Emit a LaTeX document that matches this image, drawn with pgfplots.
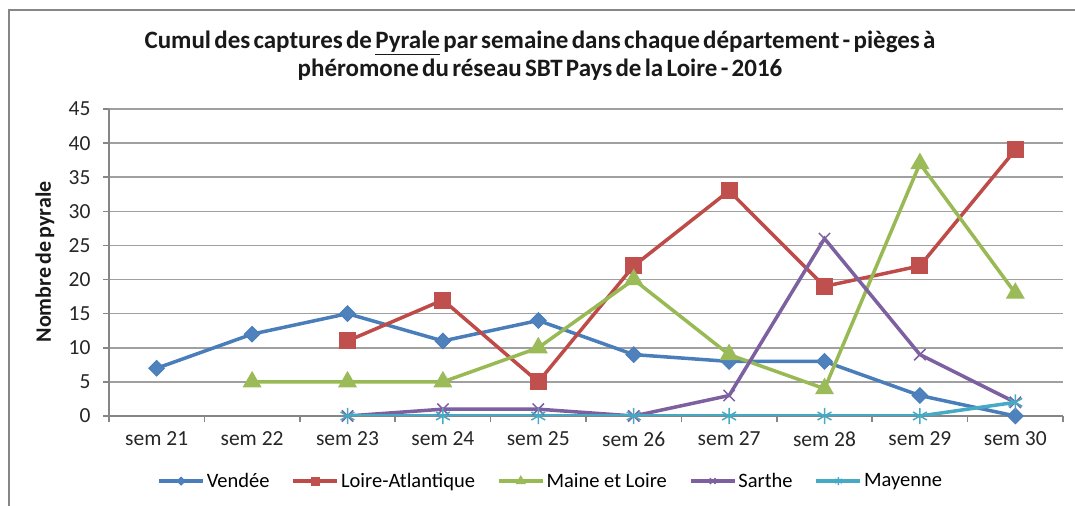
\documentclass[border=0pt]{standalone}
\usepackage{fontspec}
\setmainfont{Carlito}
\usepackage{pgfplots}
\pgfplotsset{compat=1.18}
\definecolor{cVen}{HTML}{4A7EBB}
\definecolor{cVenF}{HTML}{4F81BD}
\definecolor{cLA}{HTML}{BE4B48}
\definecolor{cLAF}{HTML}{C0504D}
\definecolor{cML}{HTML}{98B954}
\definecolor{cMLF}{HTML}{9BBB59}
\definecolor{cSa}{HTML}{7D60A0}
\definecolor{cMa}{HTML}{46AAC5}
\definecolor{cAx}{HTML}{868686}
\definecolor{cGr}{HTML}{A0A0A0}
\begin{document}
\begin{tikzpicture}
\useasboundingbox (0,0) rectangle (1075bp,506bp);
\draw[color=cAx, line width=2.5bp] (9bp,0) -- (9bp,496bp) -- (1075bp,496bp);
\node[font=\bfseries\fontsize{25bp}{28bp}\selectfont, align=center, text=black!90] at (540bp,450bp)
 {\spaceskip=0.13em plus 0.05em Cumul des captures de \underline{Pyrale} par semaine dans chaque département - pièges à\\\spaceskip=0.13em plus 0.05em phéromone du réseau SBT Pays de la Loire - 2016};
\node[font=\bfseries\fontsize{22bp}{24bp}\selectfont, rotate=90, text=black!90] at (45bp,244bp) {\spaceskip=0.15em Nombre de pyrale};
\begin{axis}[
  at={(109bp,90bp)}, anchor=south west, scale only axis,
  width=954bp, height=307bp,
  xmin=-0.5, xmax=9.5, ymin=0, ymax=45,
  xtick={0,...,9},
  xticklabels={sem 21,sem 22,sem 23,sem 24,sem 25,sem 26,sem 27,sem 28,sem 29,sem 30},
  minor xtick={-0.5,0.5,...,9.5},
  ytick={0,5,...,45},
  ymajorgrids,
  major grid style={color=cGr, line width=1.5bp},
  axis x line*=bottom, axis y line*=left,
  axis line style={color=cAx, line width=1.5bp},
  tick align=outside,
  major x tick style={draw=none},
  major tick length=6bp, minor tick length=6bp,
  tick style={color=cAx, line width=1.5bp},
  ticklabel style={font=\fontsize{21.5bp}{24bp}\selectfont, text=black!85},
  /pgf/number format/assume math mode=true,
  xticklabel style={yshift=-6bp},
  yticklabel style={xshift=-9bp},
  legend style={at={(0.463,-0.212)}, anchor=center, draw=none, fill=none,
    legend columns=5, font=\fontsize{20.5bp}{22bp}\selectfont,
    /tikz/every even column/.append style={column sep=20bp},
    inner sep=0pt},
  legend image code/.code={\draw[#1, mark repeat=2, mark phase=2, every mark/.append style={scale=0.5}] plot coordinates {(0bp,0bp) (22bp,0bp) (44bp,0bp)};},
  legend cell align=left,
  every axis plot/.append style={line width=3.5bp},
]
\addplot[color=cVen, mark=square*, mark size=5.5bp, mark options={rotate=45, fill=cVenF, draw=cVen, line width=1bp}]
 coordinates {(0,7) (1,12) (2,15) (3,11) (4,14) (5,9) (6,8) (7,8) (8,3) (9,0)};
\addlegendentry{Vendée}
\addplot[color=cLA, mark=square*, mark size=8bp, mark options={fill=cLAF, draw=cLAF, line width=1bp}]
 coordinates {(2,11) (3,17) (4,5) (5,22) (6,33) (7,19) (8,22) (9,39)};
\addlegendentry{Loire-Atlantique}
\addplot[color=cML, mark=triangle*, mark size=10bp, mark options={fill=cMLF, draw=cMLF, line width=1bp}]
 coordinates {(1,5) (2,5) (3,5) (4,10) (5,20) (6,9) (7,4) (8,37) (9,18)};
\addlegendentry{Maine et Loire}
\addplot[color=cSa, mark=x, mark size=8bp, mark options={line width=1.5bp}]
 coordinates {(2,0) (3,1) (4,1) (5,0) (6,3) (7,26) (8,9) (9,2)};
\addlegendentry{Sarthe}
\addplot[color=cMa, mark=asterisk, mark size=8bp, mark options={line width=1.5bp}]
 coordinates {(2,0) (3,0) (4,0) (5,0) (6,0) (7,0) (8,0) (9,2)};
\addlegendentry{Mayenne}
\end{axis}
\end{tikzpicture}
\end{document}
